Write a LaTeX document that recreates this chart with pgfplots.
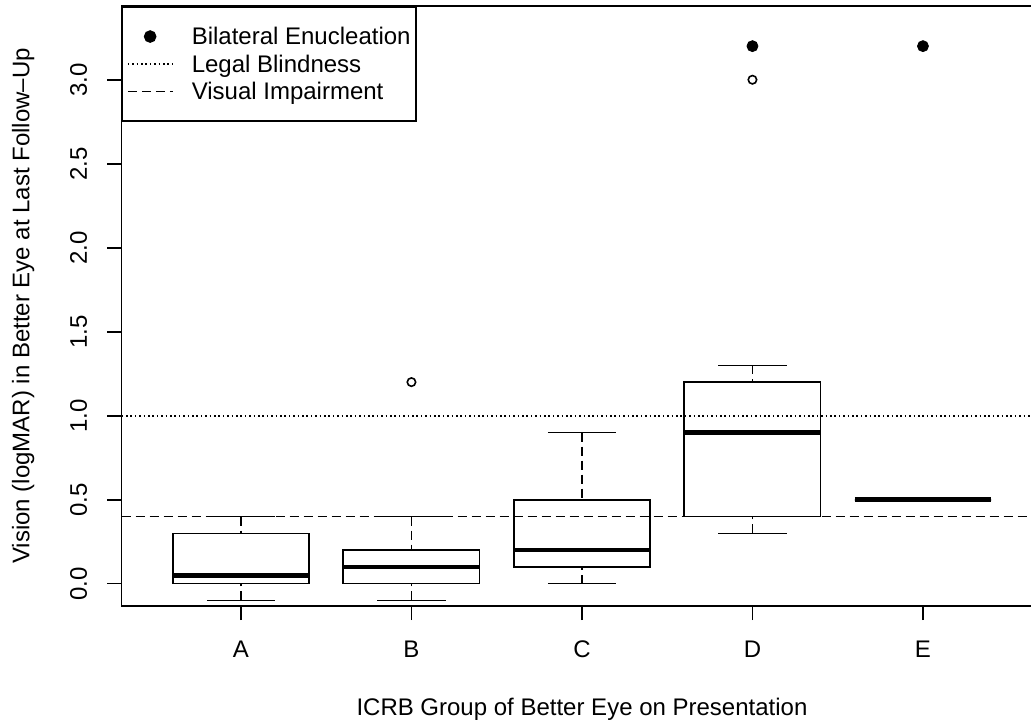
\documentclass[border=0pt]{standalone}
\usepackage{fontspec}
\setmainfont{Liberation Sans}
\usepackage{pgfplots}
\pgfplotsset{compat=1.18}
\usepgfplotslibrary{statistics}
\newcommand{\twelve}{\fontsize{12pt}{14.4pt}\selectfont}
\pgfplotsset{
  linelegend/.style={legend image code/.code={%
    \path[draw=none, fill=none] (0pt,-0.4pt) rectangle (22.35pt,0.4pt);
    \draw[##1, overlay] (0pt,0pt) -- (22.35pt,0pt);}},
  marklegend/.style={legend image code/.code={%
    \path[draw=none, fill=none] (0pt,-0.4pt) rectangle (22.35pt,0.4pt);
    \draw[##1, overlay, mark repeat=2, mark phase=2] plot coordinates {(0pt,0pt) (11.175pt,0pt) (22.35pt,0pt)};}},
}
\begin{document}
\twelve
\begin{tikzpicture}
\useasboundingbox (0,0) rectangle (515.5pt,361.5pt);
\clip (0,0) rectangle (515.5pt,361.5pt);
\begin{axis}[
  at={(60.8pt,58.65pt)}, anchor=south west,
  scale only axis, width=460.35pt, height=299.85pt,
  xmin=0.3, xmax=5.7, ymin=-0.131, ymax=3.439,
  axis line style={line width=0.8pt},
  every tick/.style={black, line width=0.8pt},
  tick align=outside, major tick length=7.2pt, tick pos=left,
  xtick={1,2,3,4,5}, xticklabels={A,B,C,D,E},
  ytick={0,0.5,1,1.5,2,2.5,3},
  /pgf/number format/assume math mode=true,
  tick label style={font=\twelve},
  label style={font=\twelve},
  xticklabel style={anchor=base, yshift=-18.7pt},
  yticklabel style={/pgf/number format/.cd, fixed, fixed zerofill, precision=1, /tikz/.cd, anchor=base, xshift=-10.1pt, rotate=90},
  xlabel={ICRB Group of Better Eye on Presentation},
  ylabel={Vision (logMAR) in Better Eye at Last Follow–Up},
  xlabel style={at={(axis description cs:0.5,-0.18243)}, anchor=base},
  ylabel style={at={(axis description cs:-0.10014,0.5)}, anchor=base},
  clip=true,
  boxplot/draw direction=y,
  boxplot/box extend=0.8,
  boxplot/whisker extend=0.4,
  boxplot/every box/.style={line width=0.8pt},
  boxplot/every median/.style={line width=2.25pt, line cap=butt},
  boxplot/draw/lower whisker/.code={%
    \draw[black, line width=0.8pt, dash pattern=on 4.5pt off 2.5pt]
      (boxplot cs:\pgfplotsboxplotvalue{lower whisker}) -- (boxplot cs:\pgfplotsboxplotvalue{lower quartile});
    \draw[black, line width=0.8pt]
      (boxplot whisker cs:\pgfplotsboxplotvalue{lower whisker},0) -- (boxplot whisker cs:\pgfplotsboxplotvalue{lower whisker},1);
  },
  boxplot/draw/upper whisker/.code={%
    \draw[black, line width=0.8pt, dash pattern=on 4.5pt off 2.5pt]
      (boxplot cs:\pgfplotsboxplotvalue{upper whisker}) -- (boxplot cs:\pgfplotsboxplotvalue{upper quartile});
    \draw[black, line width=0.8pt]
      (boxplot whisker cs:\pgfplotsboxplotvalue{upper whisker},0) -- (boxplot whisker cs:\pgfplotsboxplotvalue{upper whisker},1);
  },
  legend style={at={(0,1)}, anchor=north west, draw=black, line width=0.8pt, fill=white,
    inner xsep=2.7pt, inner ysep=8.3pt, row sep=0.6pt, column sep=9.65pt,
    nodes={inner sep=0pt, text height=10.65pt, text depth=2.5pt},
    font=\twelve},
  legend cell align=left,
]
% Boxes (A-E)
\addplot[black, forget plot, mark=o, mark size=2.1pt, mark options={line width=0.8pt, solid},
  boxplot prepared={lower whisker=-0.1, lower quartile=0, median=0.05, upper quartile=0.3, upper whisker=0.4, draw position=1}]
  coordinates {};
\addplot[black, forget plot, mark=o, mark size=2.1pt, mark options={line width=0.8pt, solid},
  boxplot prepared={lower whisker=-0.1, lower quartile=0, median=0.1, upper quartile=0.2, upper whisker=0.4, draw position=2}]
  table[row sep=\\, y index=0] {data\\ 1.2\\};
\addplot[black, forget plot, mark=o, mark size=2.1pt, mark options={line width=0.8pt, solid},
  boxplot prepared={lower whisker=0, lower quartile=0.1, median=0.2, upper quartile=0.5, upper whisker=0.9, draw position=3}]
  coordinates {};
\addplot[black, forget plot, mark=o, mark size=2.1pt, mark options={line width=0.8pt, solid},
  boxplot prepared={lower whisker=0.3, lower quartile=0.4, median=0.9, upper quartile=1.2, upper whisker=1.3, draw position=4}]
  table[row sep=\\, y index=0] {data\\ 3.0\\};
\addplot[black, forget plot, mark=o, mark size=2.1pt, mark options={line width=0.8pt, solid},
  boxplot prepared={lower whisker=0.5, lower quartile=0.5, median=0.5, upper quartile=0.5, upper whisker=0.5, draw position=5}]
  coordinates {};
% Bilateral enucleation
\addplot[only marks, mark=*, mark size=2.75pt, draw=black, fill=black, marklegend]
  coordinates {(4,3.2) (5,3.2)};
\addlegendentry{Bilateral Enucleation}
% Legal blindness
\addplot[black, line width=0.8pt, dash pattern=on 0.8pt off 1.4pt, linelegend]
  coordinates {(0.3,1) (5.7,1)};
\addlegendentry{Legal Blindness}
% Visual impairment
\addplot[black, line width=0.8pt, dash pattern=on 4.5pt off 2.5pt, linelegend]
  coordinates {(0.3,0.4) (5.7,0.4)};
\addlegendentry{Visual Impairment}
\end{axis}
\end{tikzpicture}
\end{document}
